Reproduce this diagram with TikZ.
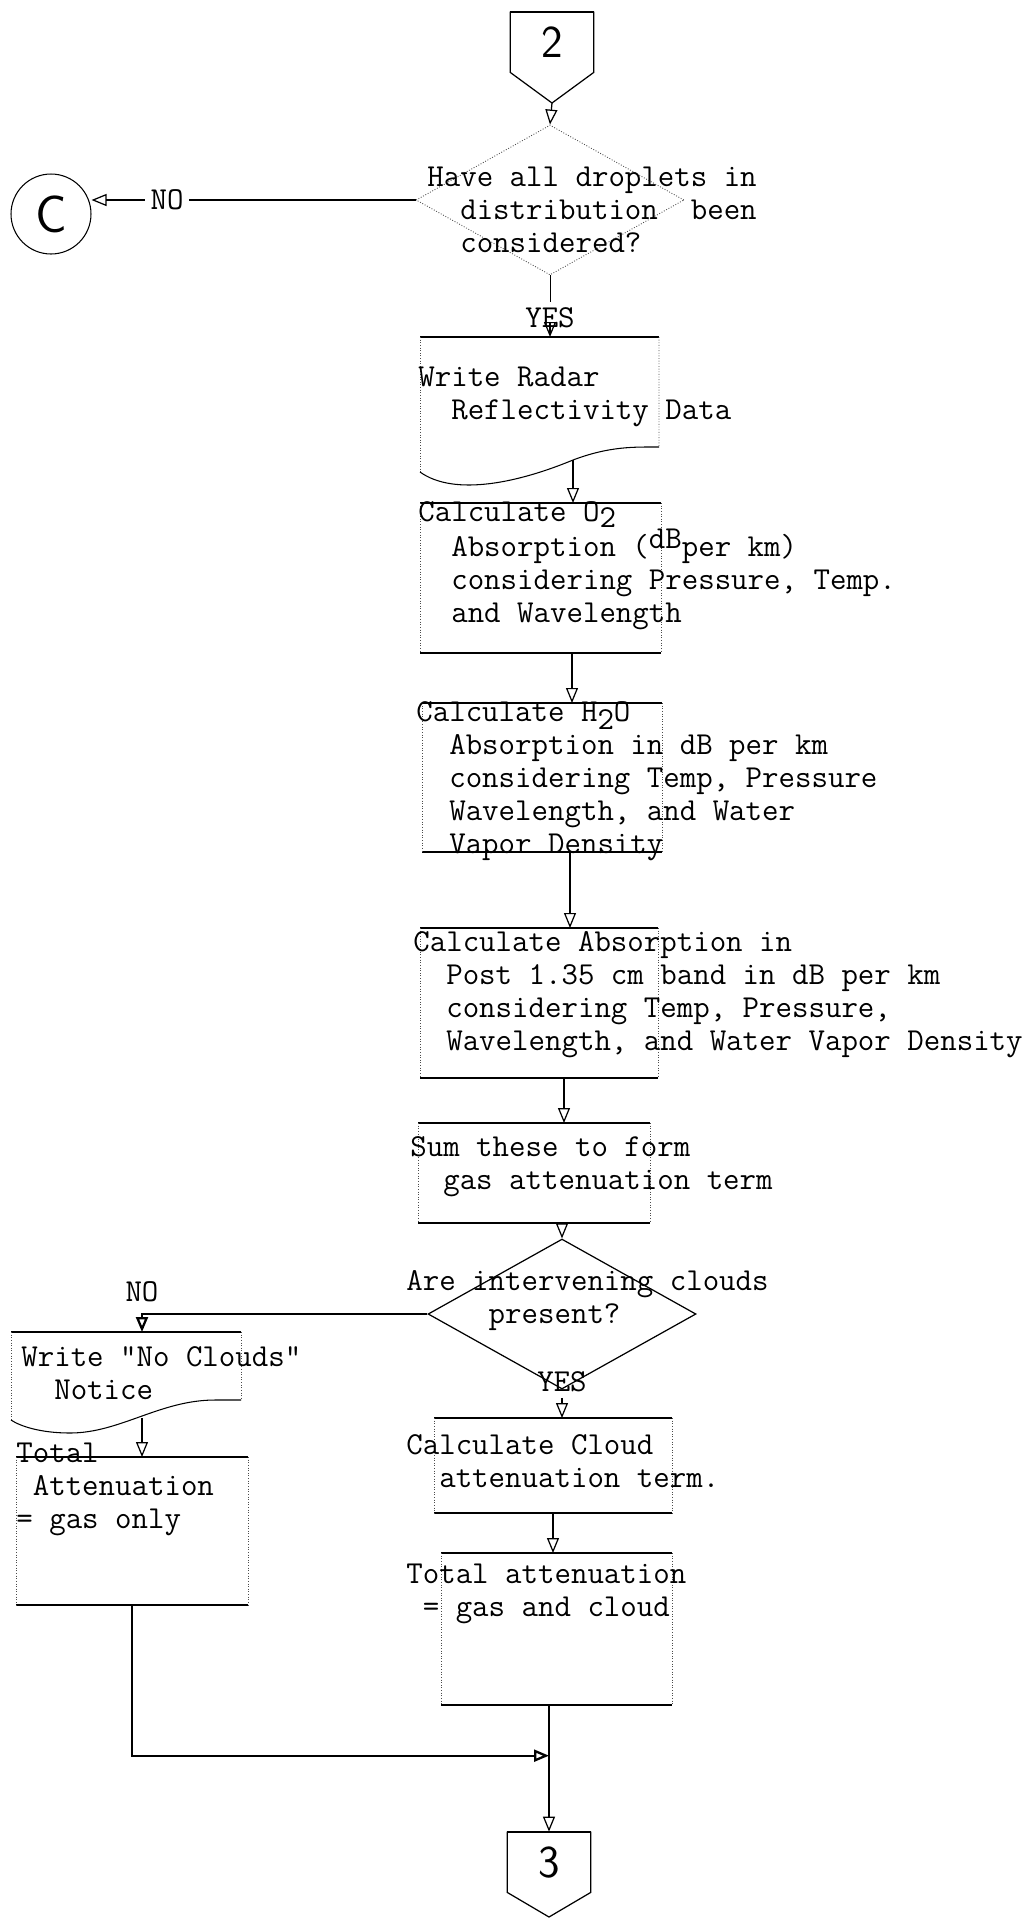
\documentclass[tikz,border=0pt]{standalone}
\usepackage{fontspec}
\usetikzlibrary{positioning, calc, fit, shapes.geometric, arrows.meta}

\newcommand{\ind}{\phantom{xx}}
\newcommand{\sub}[1]{\raisebox{-0.45ex}{#1}}

\tikzset{
  txt/.style={anchor=north west, yshift=13.2pt, inner sep=0pt, align=left,
              execute at begin node=\strut,
              font=\ttfamily\fontsize{18.2}{18.8}\selectfont},
  tag/.style={inner sep=3pt, font=\ttfamily\fontsize{18.2}{18.8}\selectfont},
  frame/.style={inner sep=0pt, outer sep=0pt},
  rim/.style={line width=1.3pt},
  side/.style={line width=0.5pt, densely dotted, black!70},
  flow/.style={line width=0.7pt, -{Triangle[open, length=3mm, width=2.4mm]}},
  heavy/.style={line width=1.3pt, -{Triangle[open, length=3mm, width=2.4mm]}},
  decide/.style={diamond, inner sep=0pt, minimum width=5.36cm, minimum height=3cm},
  page/.style={inner sep=0pt, minimum width=1.66cm, minimum height=1.2cm,
               font=\sffamily\fontsize{26}{26}\selectfont},
}

\begin{document}
\begin{tikzpicture}[x=0.02cm, y=-0.02cm]
\useasboundingbox (0,0) rectangle (1029,1918);

% entry connector
\node[page] (c2) at (552,42) {2};
\coordinate (c2tip) at (552,103);
\draw[line width=0.7pt] (c2.north west) -- (c2.south west) -- (c2tip) -- (c2.south east) -- (c2.north east);
\draw[rim] (c2.north west) -- (c2.north east);

% all droplets done?
\node[decide, draw, side] (d1) at (550,200) {};
\node[txt] (d1txt) at (427,190) {Have all droplets in\\\ind distribution\ \ been\\\ind considered?};
\draw[flow] (c2tip) -- (d1.north);

\node[draw, circle, minimum size=1.6cm, inner sep=0pt, line width=0.6pt,
      font=\sffamily\fontsize{30}{30}\selectfont] (C) at (51,214) {C};
\node[tag] (no1) at (167,200) {NO};
\draw[line width=1pt] (d1.west) -- (no1);
\draw[flow] (no1) -- (no1 -| C.east);

% radar reflectivity output
\node[frame, fit={(420,337) (659,487)}] (wr) {};
\node[tag] (yes1) at (550,318) {YES};
\draw (d1.south) -- (yes1);
\draw[flow] (yes1) -- (yes1 |- wr.north);
\draw[rim] (wr.north west) -- (wr.north east);
\draw[side] (wr.north east) -- (659,447);
\draw[side] (wr.north west) -- (420,472);
\draw[line width=0.6pt] (420,472) .. controls (455,497) and (520,482) .. (573,460)
  .. controls (610,446) and (635,447) .. (659,447);
\coordinate (wrout) at (573,460);
\node[txt] at (418,390) {Write Radar\\\ind Reflectivity Data};

% oxygen absorption
\node[frame, fit={(420,503) (661,653)}] (o2) {};
\draw[rim] (o2.north west) -- (o2.north east) (o2.south west) -- (o2.south east);
\draw[side] (o2.north west) -- (o2.south west) (o2.north east) -- (o2.south east);
\node[txt] at (418,524) {Calculate O\sub{2}\\\ind Absorption (\raisebox{0.6ex}{dB}per km)\\\ind considering Pressure, Temp.\\\ind and Wavelength};
\draw[flow] (wrout) -- (wrout |- o2.north);

% water vapour absorption
\node[frame, fit={(422,703) (662,852)}] (h2o) {};
\draw[rim] (h2o.north west) -- (h2o.north east) (h2o.south west) -- (h2o.south east);
\draw[side] (h2o.north west) -- (h2o.south west) (h2o.north east) -- (h2o.south east);
\node[txt] at (416,724) {Calculate H\raisebox{-0.6ex}{2}O\\\ind Absorption in dB per km\\\ind considering Temp, Pressure\\\ind Wavelength, and Water\\\ind Vapor Density};
\draw[flow] ([xshift=0.63cm]o2.south) -- ([xshift=0.63cm]o2.south |- h2o.north);

% band absorption
\node[frame, fit={(420,928) (658,1078)}] (post) {};
\draw[rim] (post.north west) -- (post.north east) (post.south west) -- (post.south east);
\draw[side] (post.north west) -- (post.south west) (post.north east) -- (post.south east);
\node[txt] at (413,954) {Calculate Absorption in\\\ind Post 1.35 cm band in dB per km\\\ind considering Temp, Pressure,\\\ind Wavelength, and Water Vapor Density};
\draw[flow] ([xshift=0.56cm]h2o.south) -- ([xshift=0.56cm]h2o.south |- post.north);

% gas term
\node[frame, fit={(418,1123) (650,1223)}] (sum) {};
\draw[rim] (sum.north west) -- (sum.north east) (sum.south west) -- (sum.south east);
\draw[side] (sum.north west) -- (sum.south west) (sum.north east) -- (sum.south east);
\node[txt] at (410,1159) {Sum these to form\\\ind gas attenuation term};
\draw[flow] ([xshift=0.5cm]post.south) -- ([xshift=0.5cm]post.south |- sum.north);

% clouds?
\node[decide, draw, line width=0.7pt] (d2) at (562,1314) {};
\node[txt] at (406,1293) {Are intervening clouds\\\phantom{xxxxx}present?};
\draw[flow] (d2.north |- sum.south) -- (d2.north);

% no clouds branch
\node[frame, fit={(11,1332) (241,1432)}] (nc) {};
\draw[heavy] (d2.west) -| node[tag, pos=0.5, above=0.12cm] {NO} ([xshift=0.32cm]nc.north);
\draw[rim] (nc.north west) -- (nc.north east);
\draw[side] (nc.north east) -- (241,1400);
\draw[side] (nc.north west) -- (11,1420);
\draw[line width=0.6pt] (241,1400) -- (215,1400) .. controls (160,1400) and (120,1433) .. (70,1433)
  .. controls (40,1433) and (20,1426) .. (11,1420);
\coordinate (ncout) at (142,1418);
\node[txt] at (21,1369) {Write "No Clouds"\\\ind Notice};

\node[frame, fit={(16,1457) (248,1605)}] (go) {};
\draw[rim] (go.north west) -- (go.north east) (go.south west) -- (go.south east);
\draw[side] (go.north west) -- (go.south west) (go.north east) -- (go.south east);
\node[txt] at (16,1466) {Total\\\phantom{x}Attenuation\\= gas only};
\draw[flow] (ncout) -- (ncout |- go.north);

% cloud branch
\node[tag] (yes2) at (562,1382) {YES};
\node[frame, fit={(434,1418) (672,1513)}] (cc) {};
\draw[rim] (cc.north west) -- (cc.north east) (cc.south west) -- (cc.south east);
\draw[side] (cc.north west) -- (cc.south west) (cc.north east) -- (cc.south east);
\node[txt] at (406,1457) {Calculate Cloud\\\ind attenuation term.};
\draw[flow] (yes2) -- (yes2 |- cc.north);

\node[frame, fit={(441,1553) (672,1705)}] (ta) {};
\draw[rim] (ta.north west) -- (ta.north east) (ta.south west) -- (ta.south east);
\draw[side] (ta.north west) -- (ta.south west) (ta.north east) -- (ta.south east);
\node[txt] at (406,1587) {Total attenuation\\\phantom{x}= gas and cloud};
\draw[flow] (cc.south) -- (cc.south |- ta.north);

% exit connector
\node[page] (c3) at (549,1862) {3};
\coordinate (c3tip) at (549,1917);
\draw[line width=0.7pt] (c3.north west) -- (c3.south west) -- (c3tip) -- (c3.south east) -- (c3.north east);
\draw[rim] (c3.north west) -- (c3.north east);
\draw[flow] (ta.south -| c3.north) -- (c3.north);
\coordinate (mrg) at ($(ta.south -| c3.north)!0.4!(c3.north)$);
\draw[heavy] (go.south) |- (mrg);
\end{tikzpicture}
\end{document}
